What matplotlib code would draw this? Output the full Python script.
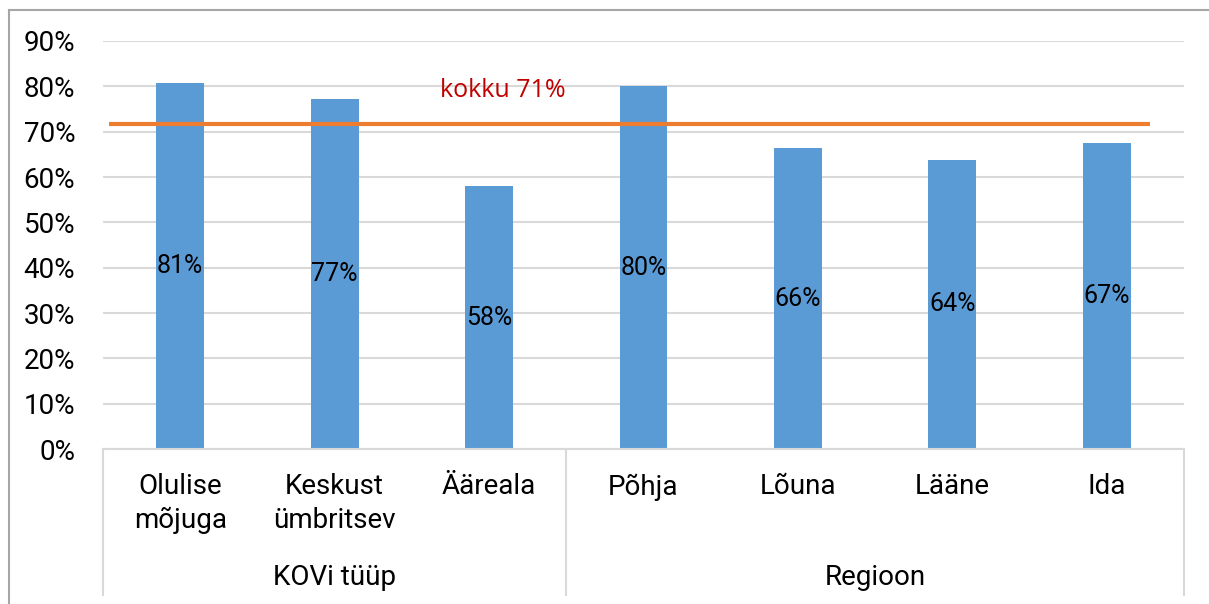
import matplotlib.pyplot as plt
from matplotlib.lines import Line2D

# data
categories = ['Olulise\nmõjuga', 'Keskust\nümbritsev', 'Ääreala', 'Põhja', 'Lõuna', 'Lääne', 'Ida']
values = [0.807, 0.771, 0.580, 0.800, 0.663, 0.638, 0.674]
value_labels = ['81%', '77%', '58%', '80%', '66%', '64%', '67%']
groups = ['KOVi tüüp', 'Regioon']
group_sizes = [3, 4]
total = 0.717
total_label = 'kokku 71%'
yticks = [0, 0.1, 0.2, 0.3, 0.4, 0.5, 0.6, 0.7, 0.8, 0.9]

plt.rcParams['font.family'] = ['Roboto', 'DejaVu Sans']

fig = plt.figure(figsize=(12.09, 6.04), dpi=100)
ax = fig.add_axes([103 / 1209, 1 - 449 / 604, (1184 - 103) / 1209, (449 - 41) / 604])

x = list(range(len(categories)))
ax.bar(x, values, width=0.31, color='#5B9BD5', zorder=2)
for xi, v, lab in zip(x, values, value_labels):
    ax.text(xi, v / 2, lab, ha='center', va='center', fontsize=18, color='black', zorder=4)

# total line
ax.plot([-0.46, 6.28], [total, total], color='#ED7D31', lw=3, zorder=3, solid_capstyle='butt')
ax.text(1.68, 0.79, total_label, ha='left', va='center', fontsize=18, color='#C00000',
        family=['Open Sans', 'DejaVu Sans'])

ax.set_xlim(-0.5, len(categories) - 0.5)
ax.set_ylim(0, 0.9)
ax.set_yticks(yticks)
ax.set_yticklabels([f'{int(round(t * 100))}%' for t in yticks], fontsize=20)
ax.tick_params(axis='y', length=0, pad=20)
ax.tick_params(axis='x', length=0)
ax.set_xticks([])
ax.grid(axis='y', color='#D9D9D9', lw=1.5, zorder=0)
ax.set_axisbelow(True)
for s in ['top', 'right', 'left']:
    ax.spines[s].set_visible(False)
ax.spines['bottom'].set_color('#D9D9D9')
ax.spines['bottom'].set_linewidth(1.5)

# category labels
trans = ax.get_xaxis_transform()
for xi, cat in zip(x, categories):
    ax.text(xi, -0.06, cat, transform=trans, ha='center', va='top', fontsize=20,
            linespacing=1.3, clip_on=False)

# group labels and separators
start = -0.5
sep_positions = [start]
for g, n in zip(groups, group_sizes):
    ax.text(start + n / 2, -0.315, g, transform=trans, ha='center', va='center', fontsize=20)
    start += n
    sep_positions.append(start)
for sp in sep_positions:
    ax.add_line(Line2D([sp, sp], [0, -0.358], transform=trans, color='#D9D9D9', lw=1.5, clip_on=False))

# outer frame
fig.add_artist(Line2D([9 / 1209, 9 / 1209], [0, 1 - 10 / 604], transform=fig.transFigure, color='#A6A6A6', lw=1.5))
fig.add_artist(Line2D([9 / 1209, 1], [1 - 10 / 604, 1 - 10 / 604], transform=fig.transFigure, color='#A6A6A6', lw=1.5))

fig.savefig('out.png', dpi=100)
